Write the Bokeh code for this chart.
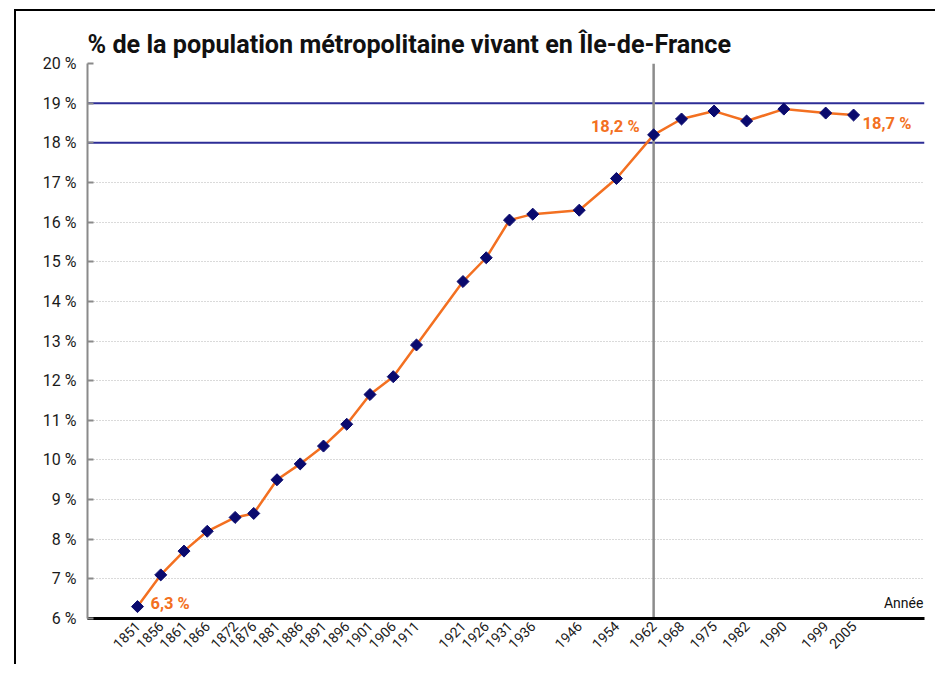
import math
from bokeh.plotting import figure
from bokeh.models import FixedTicker, Span, Label, Range1d, ColumnDataSource
from bokeh.core.properties import value
from bokeh.embed import file_html
from bokeh.resources import INLINE

# ---- data ----
years = [1851, 1856, 1861, 1866, 1872, 1876, 1881, 1886, 1891, 1896, 1901, 1906, 1911,
         1921, 1926, 1931, 1936, 1946, 1954, 1962, 1968, 1975, 1982, 1990, 1999, 2005]
share = [6.3, 7.1, 7.7, 8.2, 8.55, 8.65, 9.5, 9.9, 10.35, 10.9, 11.65, 12.1, 12.9,
         14.5, 15.1, 16.05, 16.2, 16.3, 17.1, 18.2, 18.6, 18.8, 18.55, 18.85, 18.75, 18.7]
y_ticks = list(range(6, 21))
y_labels = [f"{t} %" for t in y_ticks]
ref_levels = [18, 19]
ref_year = 1962
annot_years_left = [1851, 2005]
annot_text_left = ["6,3 %", "18,7 %"]
annot_years_right = [1962]
annot_text_right = ["18,2 %"]
title = "% de la population métropolitaine vivant en Île-de-France"
x_title = "Année"

FONT = "Roboto"
ORANGE = "#f37021"
NAVY = "#2d2d96"
MARK = "#0a0a6e"

val_of = dict(zip(years, share))

p = figure(width=921, height=655, x_range=Range1d(1840.25, 2020.25), y_range=Range1d(6, 20),
           output_backend="svg", toolbar_location=None,
           min_border_left=71, min_border_right=13, min_border_top=52, min_border_bottom=48)
p.margin = (9, 0, 0, 14)
p.styles = {"border-top": "2px solid black", "border-left": "2px solid black"}
p.outline_line_color = None
p.background_fill_color = "white"
p.border_fill_color = "white"

p.title.text = title
p.title.text_font = FONT
p.title.text_font_size = "25.2px"
p.title.text_font_style = "bold"
p.title.text_color = "#111111"
p.title.align = "left"

# y axis
p.yaxis.ticker = FixedTicker(ticks=y_ticks)
p.yaxis.major_label_overrides = dict(zip(y_ticks, y_labels))
p.yaxis.axis_line_color = "#8a8a8a"
p.yaxis.axis_line_width = 2
p.yaxis.major_tick_in = 6
p.yaxis.major_tick_out = 0
p.yaxis.major_tick_line_color = "#8a8a8a"
p.yaxis.major_tick_line_width = 2
p.yaxis.minor_tick_line_color = None
p.yaxis.major_label_standoff = 11
p.yaxis.major_label_text_font = FONT
p.yaxis.major_label_text_font_size = "16px"
p.yaxis.major_label_text_color = "#1a1a1a"

# x axis
p.xaxis.ticker = FixedTicker(ticks=years)
p.xaxis.major_label_orientation = math.pi / 4
p.xaxis.major_tick_line_color = None
p.xaxis.major_tick_in = 0
p.xaxis.major_tick_out = 0
p.xaxis.minor_tick_line_color = None
p.xaxis.axis_line_color = "black"
p.xaxis.axis_line_width = 3
p.xaxis.major_label_standoff = 5
p.xaxis.major_label_text_font = FONT
p.xaxis.major_label_text_font_size = "14px"
p.xaxis.major_label_text_color = "#1a1a1a"

# grid
p.xgrid.grid_line_color = None
p.ygrid.grid_line_color = "#b5b5b5"
p.ygrid.grid_line_dash = "1 2"
p.ygrid.grid_line_width = 1

for lv in ref_levels:
    p.add_layout(Span(location=lv, dimension="width", line_color=NAVY, line_width=2, level="underlay"))
p.add_layout(Span(location=ref_year, dimension="height", line_color="#8c8c8c", line_width=2.5, level="underlay"))

src = ColumnDataSource(dict(x=years, y=share))
p.line("x", "y", source=src, line_color=ORANGE, line_width=2.5)
p.scatter("x", "y", source=src, marker="square", angle=math.pi / 4, size=8.5,
          fill_color=MARK, line_color=MARK)

left_src = ColumnDataSource(dict(x=annot_years_left, y=[val_of[y] for y in annot_years_left],
                                 t=annot_text_left, xo=[13, 9], yo=[-3, 8]))
p.text("x", "y", text="t", source=left_src, x_offset="xo", y_offset="yo",
       text_font=value(FONT), text_font_size="16.5px", text_font_style="bold",
       text_color=ORANGE, text_align="left", text_baseline="middle")
right_src = ColumnDataSource(dict(x=annot_years_right, y=[val_of[y] for y in annot_years_right],
                                  t=annot_text_right, xo=[-14], yo=[-8]))
p.text("x", "y", text="t", source=right_src, x_offset="xo", y_offset="yo",
       text_font=value(FONT), text_font_size="16.5px", text_font_style="bold",
       text_color=ORANGE, text_align="right", text_baseline="middle")

p.add_layout(Label(x=2020.0, y=6.2, text=x_title, text_align="right", text_baseline="bottom",
                   text_font=FONT, text_font_size="14px", text_color="#111111"))

open("out.html", "w").write(file_html(p, INLINE))
